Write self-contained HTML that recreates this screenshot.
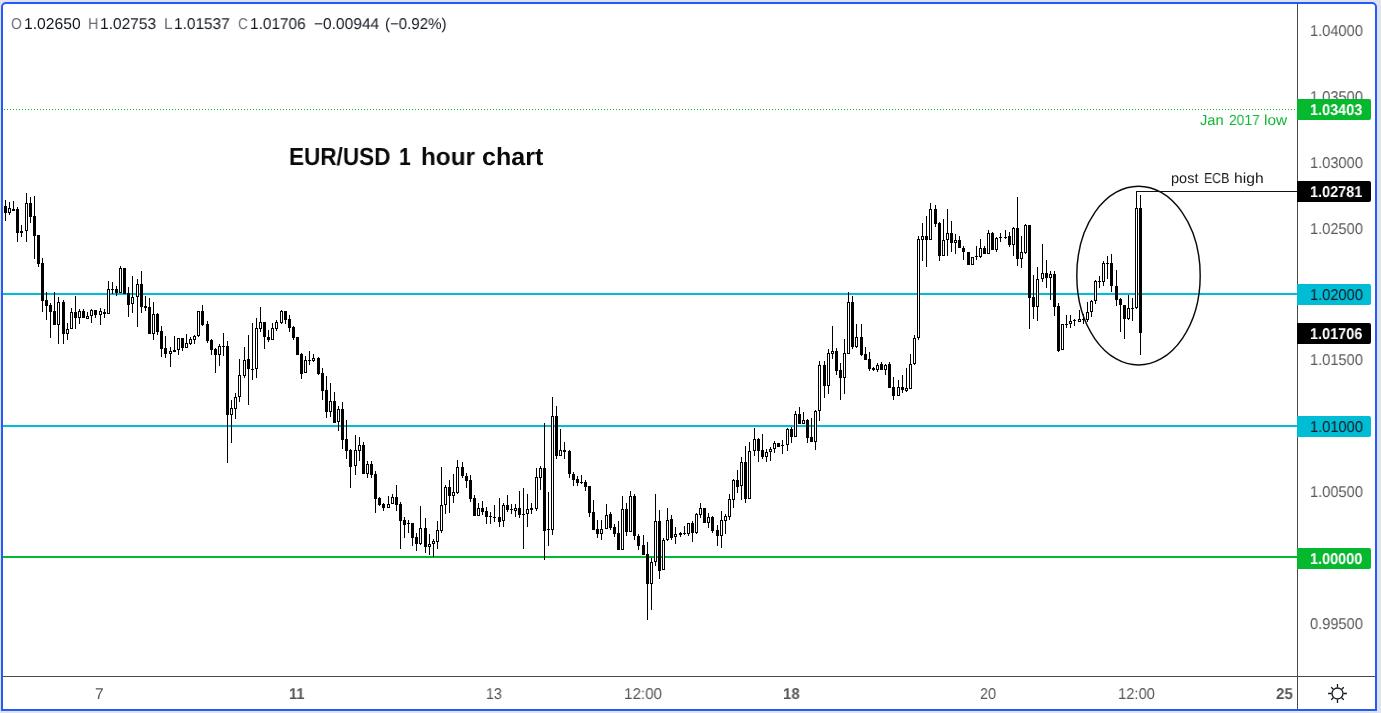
<!DOCTYPE html>
<html>
<head>
<meta charset="utf-8">
<title>EUR/USD 1 hour chart</title>
<style>
html,body{margin:0;padding:0;}
body{width:1381px;height:713px;background:#e0e3eb;position:relative;overflow:hidden;font-family:"Liberation Sans",sans-serif;}
#frame{position:absolute;left:1px;top:2px;width:1372px;height:705px;border:2px solid #2459ff;border-radius:5px 5px 0 0;background:#fff;}
#chart{position:absolute;left:0;top:0;width:1381px;height:713px;}
.t{position:absolute;white-space:nowrap;line-height:1;transform-origin:0 0;will-change:transform;text-rendering:geometricPrecision;}
.lab{position:absolute;left:1297px;width:74px;height:21px;border-radius:0 2px 2px 0;}
</style>
</head>
<body>
<div id="frame"></div>
<svg id="chart" width="1381" height="713" viewBox="0 0 1381 713">
<line x1="4" y1="109.5" x2="1297" y2="109.5" stroke="#12b434" stroke-width="1" stroke-dasharray="1 2"/>
<rect x="3" y="293" width="1295" height="2" fill="#00bcd4"/>
<rect x="3" y="425" width="1295" height="2" fill="#00bcd4"/>
<rect x="3" y="556" width="1295" height="2" fill="#06b82e"/>
<rect x="1297" y="4" width="1" height="705" fill="#4a4a4a"/>
<rect x="3" y="676" width="1372" height="1" fill="#4a4a4a"/>
<path d="M5.5 200V221M9.5 202V215M13.5 201V211M17.5 207V242M21.5 225V237M26.5 193V242M30.5 197V223M34.5 196V259M38.5 235V267M42.5 258V312M46.5 292V320M50.5 303V338M54.5 292V325M58.5 297V344M63.5 300V344M67.5 323V340M71.5 308V329M75.5 296V329M79.5 309V324M83.5 309V318M87.5 312V319M91.5 309V323M95.5 310V318M100.5 308V325M104.5 309V318M108.5 281V314M112.5 282V294M116.5 286V296M120.5 266V293M124.5 268V294M128.5 287V317M132.5 276V313M137.5 279V327M141.5 271V313M145.5 296V311M149.5 298V334M153.5 302V340M157.5 313V335M161.5 326V357M165.5 336V358M170.5 347V367M174.5 336V352M178.5 338V355M182.5 338V351M186.5 334V348M190.5 337V345M194.5 335V344M198.5 311V337M202.5 305V326M207.5 321V343M211.5 339V355M215.5 348V373M219.5 344V366M223.5 333V356M227.5 341V463M231.5 400V443M235.5 393V419M239.5 359V402M244.5 347V378M248.5 335V405M252.5 323V380M256.5 318V378M260.5 307V332M264.5 322V349M268.5 330V342M272.5 323V340M276.5 320V331M281.5 310V324M285.5 311V324M289.5 315V332M293.5 326V340M297.5 337V355M301.5 353V379M305.5 356V373M309.5 351V365M313.5 354V362M318.5 357V375M322.5 368V400M326.5 376V418M330.5 383V417M334.5 392V423M338.5 406V431M342.5 402V449M346.5 420V459M350.5 449V488M355.5 435V475M359.5 437V461M363.5 442V474M367.5 461V478M371.5 461V478M375.5 471V513M379.5 497V506M383.5 503V511M388.5 496V508M392.5 494V504M396.5 485V511M400.5 502V549M404.5 517V538M408.5 520V533M412.5 523V546M416.5 533V551M420.5 506V545M425.5 518V553M429.5 534V555M433.5 539V557M437.5 521V549M441.5 467V533M445.5 485V514M449.5 480V513M453.5 474V503M457.5 460V494M462.5 462V478M466.5 473V488M470.5 475V502M474.5 495V516M478.5 503V516M482.5 501V515M486.5 507V524M490.5 512V524M494.5 505V522M499.5 498V527M503.5 503V527M507.5 495V512M511.5 504V514M515.5 504V517M519.5 491V518M523.5 488V549M527.5 494V527M531.5 503V514M536.5 468V511M540.5 466V490M544.5 423V560M548.5 492V546M552.5 397V535M556.5 406V459M560.5 429V456M564.5 442V459M569.5 450V478M573.5 472V486M577.5 476V486M581.5 475V484M585.5 480V491M589.5 486V517M593.5 500V530M597.5 520V538M601.5 520V540M606.5 504V529M610.5 512V530M614.5 524V537M618.5 521V550M622.5 496V550M626.5 503V536M630.5 491V532M634.5 494V540M638.5 534V550M643.5 535V555M647.5 542V620M651.5 558V610M655.5 494V566M659.5 510V579M663.5 538V570M667.5 508V541M671.5 515V540M675.5 527V544M680.5 532V537M684.5 526V535M688.5 523V536M692.5 521V542M696.5 513V534M700.5 503V518M704.5 508V523M708.5 513V528M712.5 516V533M717.5 525V546M721.5 511V548M725.5 514V534M729.5 494V520M733.5 479V508M737.5 470V493M741.5 457V500M745.5 446V503M749.5 442V499M754.5 428V456M758.5 438V462M762.5 434V459M766.5 449V462M770.5 447V461M774.5 441V453M778.5 443V447M782.5 440V454M787.5 428V451M791.5 427V443M795.5 411V437M799.5 407V424M803.5 412V424M807.5 419V443M811.5 418V442M815.5 410V450M819.5 361V421M824.5 361V398M828.5 349V394M832.5 326V359M836.5 348V375M840.5 363V400M844.5 339V394M848.5 292V354M852.5 296V349M856.5 324V348M861.5 324V356M865.5 347V360M869.5 352V371M873.5 367V371M877.5 363V372M881.5 362V370M885.5 364V375M889.5 362V388M893.5 377V400M898.5 380V396M902.5 375V393M906.5 368V392M910.5 354V389M914.5 335V365M918.5 236V340M922.5 223V261M926.5 216V267M930.5 203V240M935.5 205V227M939.5 222V261M943.5 219V256M947.5 209V256M951.5 221V252M955.5 234V254M959.5 236V248M963.5 246V260M968.5 252V265M972.5 257V265M976.5 246V260M980.5 239V258M984.5 246V254M988.5 230V254M992.5 232V250M996.5 237V252M1000.5 233V242M1005.5 230V239M1009.5 232V247M1013.5 227V256M1017.5 197V266M1021.5 236V268M1025.5 224V254M1029.5 225V329M1033.5 275V319M1037.5 267V321M1042.5 244V282M1046.5 260V288M1050.5 271V300M1054.5 271V316M1058.5 303V352M1062.5 324V350M1066.5 315V328M1070.5 315V328M1074.5 319V326M1079.5 310V322M1083.5 314V324M1087.5 302V322M1091.5 300V317M1095.5 280V304M1099.5 276V288M1103.5 261V286M1107.5 256V279M1111.5 254V292M1116.5 270V306M1120.5 298V332M1124.5 305V339M1128.5 295V320M1132.5 298V321M1136.5 191V309M1140.5 195V355" stroke="#000" stroke-width="1" fill="none" shape-rendering="crispEdges"/>
<path d="M4 206h3v7h-3zM12 209h3v2h-3zM16 209h3v24h-3zM20 231h3v2h-3zM29 203h3v14h-3zM33 216h3v20h-3zM37 235h3v29h-3zM41 263h3v38h-3zM45 300h3v6h-3zM49 305h3v7h-3zM53 311h3v14h-3zM62 302h3v32h-3zM74 312h3v6h-3zM82 311h3v7h-3zM94 310h3v5h-3zM103 312h3v2h-3zM111 289h3v1h-3zM115 289h3v4h-3zM123 268h3v26h-3zM127 293h3v12h-3zM140 284h3v23h-3zM144 306h3v2h-3zM148 307h3v27h-3zM156 314h3v18h-3zM160 331h3v18h-3zM164 348h3v6h-3zM173 350h3v2h-3zM181 338h3v10h-3zM201 311h3v14h-3zM206 324h3v17h-3zM210 340h3v10h-3zM214 349h3v6h-3zM222 346h3v1h-3zM226 346h3v69h-3zM247 359h3v10h-3zM251 369h3v1h-3zM263 322h3v15h-3zM267 337h3v3h-3zM284 311h3v9h-3zM288 319h3v9h-3zM292 327h3v11h-3zM296 337h3v18h-3zM300 354h3v20h-3zM308 360h3v1h-3zM317 358h3v16h-3zM321 373h3v18h-3zM325 390h3v22h-3zM333 401h3v22h-3zM341 409h3v31h-3zM345 439h3v12h-3zM349 450h3v17h-3zM362 445h3v29h-3zM370 464h3v11h-3zM374 474h3v25h-3zM378 498h3v7h-3zM382 504h3v4h-3zM395 497h3v8h-3zM399 504h3v17h-3zM403 520h3v5h-3zM407 523h3v1h-3zM411 523h3v15h-3zM415 537h3v7h-3zM424 528h3v19h-3zM448 487h3v9h-3zM461 467h3v9h-3zM465 476h3v5h-3zM469 480h3v19h-3zM473 498h3v18h-3zM481 508h3v4h-3zM485 511h3v6h-3zM489 516h3v1h-3zM493 517h3v1h-3zM498 517h3v5h-3zM506 505h3v5h-3zM510 509h3v1h-3zM518 508h3v7h-3zM522 514h3v1h-3zM530 508h3v2h-3zM543 468h3v63h-3zM547 529h3v1h-3zM555 416h3v40h-3zM563 450h3v2h-3zM568 451h3v23h-3zM572 474h3v6h-3zM576 479h3v4h-3zM580 482h3v1h-3zM584 482h3v5h-3zM588 486h3v27h-3zM592 512h3v18h-3zM596 529h3v5h-3zM609 514h3v14h-3zM613 527h3v7h-3zM617 533h3v17h-3zM625 509h3v23h-3zM633 496h3v40h-3zM637 536h3v10h-3zM642 545h3v10h-3zM646 554h3v30h-3zM658 521h3v50h-3zM670 519h3v19h-3zM679 533h3v2h-3zM683 533h3v1h-3zM691 523h3v10h-3zM703 508h3v15h-3zM711 517h3v14h-3zM716 530h3v6h-3zM736 480h3v7h-3zM744 462h3v37h-3zM757 439h3v12h-3zM761 450h3v7h-3zM777 443h3v4h-3zM781 445h3v1h-3zM790 429h3v8h-3zM798 414h3v10h-3zM806 420h3v18h-3zM810 437h3v5h-3zM823 365h3v21h-3zM835 351h3v20h-3zM839 370h3v8h-3zM851 302h3v45h-3zM860 337h3v18h-3zM864 354h3v6h-3zM868 359h3v10h-3zM872 368h3v2h-3zM880 364h3v6h-3zM888 364h3v24h-3zM892 387h3v9h-3zM901 387h3v3h-3zM925 236h3v4h-3zM934 209h3v15h-3zM938 223h3v33h-3zM950 233h3v10h-3zM958 240h3v8h-3zM962 248h3v4h-3zM967 252h3v13h-3zM975 256h3v1h-3zM983 248h3v6h-3zM991 233h3v17h-3zM999 237h3v1h-3zM1004 237h3v1h-3zM1008 236h3v9h-3zM1016 228h3v31h-3zM1028 225h3v73h-3zM1032 297h3v10h-3zM1045 273h3v5h-3zM1053 274h3v33h-3zM1057 306h3v45h-3zM1065 324h3v1h-3zM1073 320h3v1h-3zM1082 319h3v1h-3zM1098 281h3v1h-3zM1106 263h3v1h-3zM1110 263h3v23h-3zM1115 286h3v14h-3zM1119 299h3v6h-3zM1123 305h3v14h-3zM1131 308h3v1h-3zM1139 208h3v125h-3z" fill="#000" shape-rendering="crispEdges"/>
<path d="M8.5 208.5h2v4h-2zM25.5 203.5h2v27h-2zM57.5 302.5h2v22h-2zM66.5 329.5h2v4h-2zM70.5 312.5h2v16h-2zM78.5 311.5h2v6h-2zM86.5 316.5h2v2h-2zM90.5 310.5h2v5h-2zM99.5 311.5h2v3h-2zM107.5 289.5h2v24h-2zM119.5 268.5h2v24h-2zM131.5 297.5h2v6h-2zM136.5 284.5h2v12h-2zM152.5 314.5h2v19h-2zM169.5 351.5h2v2h-2zM177.5 338.5h2v11h-2zM185.5 343.5h2v4h-2zM189.5 339.5h2v4h-2zM193.5 336.5h2v3h-2zM197.5 311.5h2v24h-2zM218.5 346.5h2v8h-2zM230.5 408.5h2v6h-2zM234.5 397.5h2v11h-2zM238.5 375.5h2v21h-2zM243.5 360.5h2v15h-2zM255.5 328.5h2v40h-2zM259.5 322.5h2v6h-2zM271.5 328.5h2v11h-2zM275.5 322.5h2v6h-2zM280.5 311.5h2v11h-2zM304.5 360.5h2v12h-2zM312.5 358.5h2v2h-2zM329.5 401.5h2v10h-2zM337.5 409.5h2v12h-2zM354.5 450.5h2v15h-2zM358.5 445.5h2v5h-2zM366.5 464.5h2v9h-2zM387.5 504.5h2v3h-2zM391.5 497.5h2v6h-2zM419.5 528.5h2v15h-2zM428.5 544.5h2v2h-2zM432.5 541.5h2v2h-2zM436.5 530.5h2v11h-2zM440.5 505.5h2v25h-2zM444.5 487.5h2v17h-2zM452.5 492.5h2v3h-2zM456.5 467.5h2v25h-2zM477.5 508.5h2v7h-2zM502.5 505.5h2v15h-2zM514.5 508.5h2v2h-2zM526.5 509.5h2v4h-2zM535.5 477.5h2v31h-2zM539.5 468.5h2v9h-2zM551.5 416.5h2v113h-2zM559.5 450.5h2v5h-2zM600.5 529.5h2v4h-2zM605.5 515.5h2v13h-2zM621.5 509.5h2v40h-2zM629.5 496.5h2v35h-2zM650.5 562.5h2v21h-2zM654.5 521.5h2v40h-2zM662.5 540.5h2v29h-2zM666.5 520.5h2v19h-2zM674.5 534.5h2v2h-2zM687.5 523.5h2v10h-2zM695.5 514.5h2v18h-2zM699.5 508.5h2v6h-2zM707.5 517.5h2v5h-2zM720.5 520.5h2v15h-2zM724.5 516.5h2v4h-2zM728.5 499.5h2v17h-2zM732.5 480.5h2v19h-2zM740.5 462.5h2v23h-2zM748.5 451.5h2v47h-2zM753.5 439.5h2v11h-2zM765.5 452.5h2v4h-2zM769.5 449.5h2v2h-2zM773.5 443.5h2v5h-2zM786.5 429.5h2v15h-2zM794.5 414.5h2v22h-2zM802.5 420.5h2v3h-2zM814.5 411.5h2v30h-2zM818.5 365.5h2v45h-2zM827.5 353.5h2v32h-2zM831.5 351.5h2v2h-2zM843.5 353.5h2v24h-2zM847.5 302.5h2v51h-2zM855.5 337.5h2v9h-2zM876.5 365.5h2v4h-2zM884.5 365.5h2v4h-2zM897.5 387.5h2v8h-2zM905.5 388.5h2v2h-2zM909.5 364.5h2v24h-2zM913.5 338.5h2v25h-2zM917.5 239.5h2v98h-2zM921.5 236.5h2v3h-2zM929.5 209.5h2v30h-2zM942.5 240.5h2v15h-2zM946.5 233.5h2v6h-2zM954.5 240.5h2v2h-2zM971.5 257.5h2v7h-2zM979.5 248.5h2v8h-2zM987.5 233.5h2v20h-2zM995.5 238.5h2v11h-2zM1012.5 228.5h2v16h-2zM1020.5 252.5h2v6h-2zM1024.5 225.5h2v27h-2zM1036.5 279.5h2v27h-2zM1041.5 273.5h2v5h-2zM1049.5 274.5h2v3h-2zM1061.5 324.5h2v25h-2zM1069.5 321.5h2v2h-2zM1078.5 319.5h2v2h-2zM1086.5 312.5h2v7h-2zM1090.5 301.5h2v10h-2zM1094.5 281.5h2v19h-2zM1102.5 263.5h2v18h-2zM1127.5 308.5h2v10h-2zM1135.5 208.5h2v99h-2z" fill="#fff" stroke="#000" stroke-width="1" shape-rendering="crispEdges"/>
<ellipse cx="1138.5" cy="275.6" rx="61.7" ry="89.4" fill="none" stroke="#0a0a0a" stroke-width="1.45"/>
<rect x="1136" y="191" width="161" height="1" fill="#111"/>
<g stroke="#131722" stroke-width="1.3" fill="none">
<circle cx="1337.5" cy="693.5" r="5.5"/>
<path d="M1343.40 693.50L1346.90 693.50M1341.67 697.67L1343.79 699.79M1337.50 699.40L1337.50 702.90M1333.33 697.67L1331.21 699.79M1331.60 693.50L1328.10 693.50M1333.33 689.33L1331.21 687.21M1337.50 687.60L1337.50 684.10M1341.67 689.33L1343.79 687.21"/>
</g>
</svg>
<div class="t" style="left:1309.96px;top:23.88px;font-size:15.6px;color:#585858;transform:rotate(0.02deg) scaleX(0.9389);">1.04000</div>
<div class="t" style="left:1309.96px;top:89.75px;font-size:15.6px;color:#585858;transform:rotate(0.02deg) scaleX(0.9389);">1.03500</div>
<div class="t" style="left:1309.96px;top:155.63px;font-size:15.6px;color:#585858;transform:rotate(0.02deg) scaleX(0.9389);">1.03000</div>
<div class="t" style="left:1309.96px;top:221.50px;font-size:15.6px;color:#585858;transform:rotate(0.02deg) scaleX(0.9389);">1.02500</div>
<div class="t" style="left:1309.96px;top:353.25px;font-size:15.6px;color:#585858;transform:rotate(0.02deg) scaleX(0.9389);">1.01500</div>
<div class="t" style="left:1309.96px;top:485.00px;font-size:15.6px;color:#585858;transform:rotate(0.02deg) scaleX(0.9389);">1.00500</div>
<div class="t" style="left:1309.96px;top:616.75px;font-size:15.6px;color:#585858;transform:rotate(0.02deg) scaleX(0.9389);">0.99500</div>
<div class="lab" style="top:99px;background:#06b82e;"></div>
<div class="t" style="left:1310.17px;top:102.88px;font-size:15.6px;color:#fff;font-weight:bold;transform:rotate(0.02deg) scaleX(0.9283);">1.03403</div>
<div class="lab" style="top:181px;background:#000;"></div>
<div class="t" style="left:1310.17px;top:184.88px;font-size:15.6px;color:#fff;font-weight:bold;transform:rotate(0.02deg) scaleX(0.9283);">1.02781</div>
<div class="lab" style="top:284px;background:#00bcd4;"></div>
<div class="t" style="left:1310.16px;top:287.88px;font-size:15.6px;color:#131722;transform:rotate(0.02deg) scaleX(0.9389);">1.02000</div>
<div class="lab" style="top:323px;background:#000;"></div>
<div class="t" style="left:1310.17px;top:326.88px;font-size:15.6px;color:#fff;font-weight:bold;transform:rotate(0.02deg) scaleX(0.9283);">1.01706</div>
<div class="lab" style="top:416px;background:#00bcd4;"></div>
<div class="t" style="left:1310.16px;top:419.88px;font-size:15.6px;color:#131722;transform:rotate(0.02deg) scaleX(0.9389);">1.01000</div>
<div class="lab" style="top:548px;background:#06b82e;"></div>
<div class="t" style="left:1310.17px;top:551.88px;font-size:15.6px;color:#fff;font-weight:bold;transform:rotate(0.02deg) scaleX(0.9283);">1.00000</div>
<div class="t" style="left:10.87px;top:16.76px;font-size:15.6px;color:#6a6d78;transform:rotate(0.02deg) scaleX(0.8930);">O</div>
<div class="t" style="left:23.60px;top:16.76px;font-size:15.6px;color:#131722;transform:rotate(0.02deg) scaleX(1.0044);">1.02650</div>
<div class="t" style="left:87.87px;top:16.76px;font-size:15.6px;color:#6a6d78;transform:rotate(0.02deg) scaleX(0.9331);">H</div>
<div class="t" style="left:100.01px;top:16.76px;font-size:15.6px;color:#131722;transform:rotate(0.02deg) scaleX(0.9946);">1.02753</div>
<div class="t" style="left:163.89px;top:16.76px;font-size:15.6px;color:#6a6d78;transform:rotate(0.02deg) scaleX(1.0007);">L</div>
<div class="t" style="left:174.41px;top:16.76px;font-size:15.6px;color:#131722;transform:rotate(0.02deg) scaleX(0.9890);">1.01537</div>
<div class="t" style="left:237.92px;top:16.76px;font-size:15.6px;color:#6a6d78;transform:rotate(0.02deg) scaleX(0.8740);">C</div>
<div class="t" style="left:250.01px;top:16.76px;font-size:15.6px;color:#131722;transform:rotate(0.02deg) scaleX(0.9881);">1.01706</div>
<div class="t" style="left:314.12px;top:16.76px;font-size:15.6px;color:#131722;transform:rotate(0.02deg) scaleX(0.9950);">−0.00944</div>
<div class="t" style="left:384.83px;top:16.76px;font-size:15.6px;color:#131722;transform:rotate(0.02deg) scaleX(0.9654);">(−0.92%)</div>
<div class="t" style="left:289.17px;top:145.90px;font-size:24.7px;color:#0a0a0a;font-weight:bold;transform:rotate(0.02deg) scaleX(0.9139);">EUR/USD</div>
<div class="t" style="left:399.25px;top:145.90px;font-size:24.7px;color:#0a0a0a;font-weight:bold;transform:rotate(0.02deg) scaleX(0.8600);">1</div>
<div class="t" style="left:420.58px;top:145.90px;font-size:24.7px;color:#0a0a0a;font-weight:bold;transform:rotate(0.02deg) scaleX(0.9856);">hour</div>
<div class="t" style="left:482.19px;top:145.90px;font-size:24.7px;color:#0a0a0a;font-weight:bold;transform:rotate(0.02deg) scaleX(1.0149);">chart</div>
<div class="t" style="left:1200.47px;top:114.04px;font-size:14.6px;color:#12b434;transform:rotate(0.02deg) scaleX(1.0043);">Jan</div>
<div class="t" style="left:1228.57px;top:114.27px;font-size:14.6px;color:#12b434;transform:rotate(0.02deg) scaleX(0.9515);">2017</div>
<div class="t" style="left:1264.35px;top:114.13px;font-size:14.6px;color:#12b434;transform:rotate(0.02deg) scaleX(1.0549);">low</div>
<div class="t" style="left:1171.09px;top:171.88px;font-size:14.4px;color:#1a1a1a;transform:rotate(0.02deg) scaleX(1.0077);">post</div>
<div class="t" style="left:1204.24px;top:171.83px;font-size:14.4px;color:#1a1a1a;transform:rotate(0.02deg) scaleX(0.8585);">ECB</div>
<div class="t" style="left:1233.51px;top:171.86px;font-size:14.4px;color:#1a1a1a;transform:rotate(0.02deg) scaleX(1.0908);">high</div>
<div class="t" style="left:95.14px;top:686.87px;font-size:15.6px;color:#555;transform:rotate(0.02deg) scaleX(0.9950);">7</div>
<div class="t" style="left:289.05px;top:686.87px;font-size:15.6px;color:#555;font-weight:bold;transform:rotate(0.02deg) scaleX(0.9467);">11</div>
<div class="t" style="left:486.49px;top:686.90px;font-size:15.6px;color:#555;transform:rotate(0.02deg) scaleX(0.9114);">13</div>
<div class="t" style="left:623.72px;top:686.78px;font-size:15.6px;color:#555;transform:rotate(0.02deg) scaleX(0.9772);">12:00</div>
<div class="t" style="left:782.64px;top:686.90px;font-size:15.6px;color:#555;font-weight:bold;transform:rotate(0.02deg) scaleX(0.9625);">18</div>
<div class="t" style="left:979.94px;top:686.90px;font-size:15.6px;color:#555;transform:rotate(0.02deg) scaleX(0.9234);">20</div>
<div class="t" style="left:1117.85px;top:686.78px;font-size:15.6px;color:#555;transform:rotate(0.02deg) scaleX(0.9478);">12:00</div>
<div class="t" style="left:1275.99px;top:686.77px;font-size:15.6px;color:#555;font-weight:bold;transform:rotate(0.02deg) scaleX(0.9653);">25</div>
</body>
</html>
